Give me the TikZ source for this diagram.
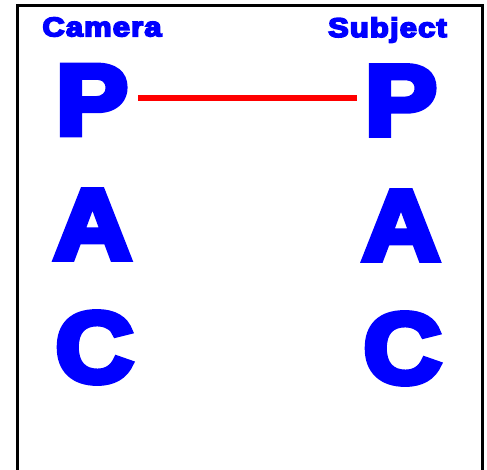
\documentclass[tikz,border=0pt]{standalone}
\usepackage{fontspec}
\newfontfamily\heavy{Liberation Sans Bold}[FakeBold=6]
\newfontfamily\heavylbl{Liberation Sans Bold}[FakeBold=6,LetterSpace=4]
\begin{document}
\begin{tikzpicture}[x=1pt,y=-1pt,
  big/.style={text=blue,inner sep=0pt,font=\heavy\fontsize{100}{100}\selectfont,xscale=1.08},
  lbl/.style={text=blue,inner sep=0pt,font=\heavylbl\fontsize{27}{27}\selectfont,xscale=1.14}]
\useasboundingbox (0,0) rectangle (487,470);
\draw[line width=3pt] (17.5,472) -- (17.5,6) -- (482,6) -- (482,472);
\node[lbl] (cam) at (102,27) {Camera};
\node[lbl] (sub) at (387.5,30) {Subject};
\node[big] (pl) at (92,100) {P};
\node[big] (pr) at (401,100.5) {P};
\node[big] (al) at (92.5,224.5) {A};
\node[big] (ar) at (401,225.5) {A};
\node[big] (cl) at (94.5,347.5) {C};
\node[big] (cr) at (402.5,348.5) {C};
\draw[red,line width=5.5pt] ([xshift=10pt]pl.east |- 0,98) -- ([xshift=-8pt]pr.west |- 0,98);
\end{tikzpicture}
\end{document}
